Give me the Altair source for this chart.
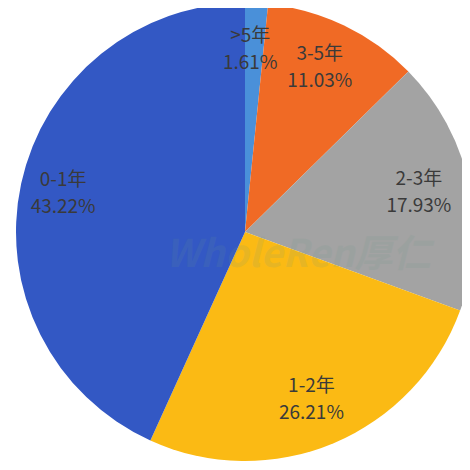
import altair as alt
import pandas as pd

categories = [">5年", "3-5年", "2-3年", "1-2年", "0-1年"]
values = [1.61, 11.03, 17.93, 26.21, 43.22]
colors = ["#4A90D9", "#F06A25", "#A3A3A3", "#FBBA14", "#3358C4"]

df = pd.DataFrame({
    "cat": categories,
    "value": values,
    "order": list(range(len(categories))),
    "pct": [f"{v:.2f}%" for v in values],
})

cx, cy, R = 237, 224, 229

theta = alt.Theta("value:Q", stack=True)
order = alt.Order("order:Q")

base = alt.Chart(df).encode(
    theta=theta,
    order=order,
    x=alt.value(cx),
    y=alt.value(cy),
)

arcs = base.mark_arc(radius=R, stroke=None).encode(
    color=alt.Color("cat:N", scale=alt.Scale(domain=categories, range=colors), legend=None)
)

font = "Noto Sans CJK SC"
lab1 = base.mark_text(radius=182, dx=-4, dy=-14, fontSize=19, font=font, color="#3a3a3a").encode(text="cat:N")
lab2 = base.mark_text(radius=182, dx=-4, dy=13, fontSize=19, font=font, color="#3a3a3a").encode(text="pct:N")

wm = alt.Chart(pd.DataFrame({"t": ["WholeRen厚仁"]})).mark_text(
    fontSize=38, font=font, fontWeight="bold", fontStyle="italic", color="#6a9a8a", opacity=0.13
).encode(text="t:N", x=alt.value(290), y=alt.value(248))

chart = alt.layer(arcs, lab1, lab2, wm).properties(
    width=454, height=454, padding=0, autosize="none"
).configure_view(stroke=None)

chart.save("out.html", embed_options={"renderer": "svg", "actions": False})
